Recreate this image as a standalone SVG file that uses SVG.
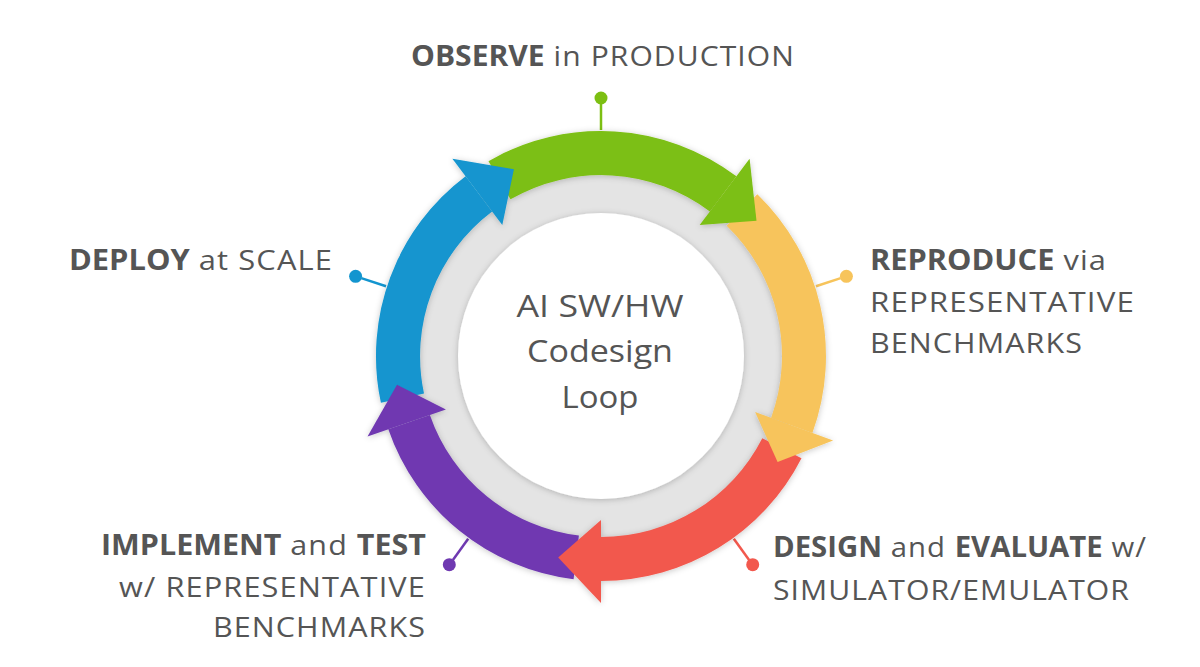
<svg xmlns="http://www.w3.org/2000/svg" width="1200" height="667" viewBox="0 0 1200 667">
  <defs>
    <filter id="sh" x="-20%" y="-20%" width="140%" height="140%">
      <feDropShadow dx="0" dy="1" stdDeviation="3" flood-color="#000" flood-opacity="0.22"/>
    </filter>
    <style>
      .lbl { font-family: "Open Sans", "Liberation Sans", sans-serif; font-size: 28px; fill: #555555; letter-spacing: 1px; }
      .b { font-weight: 700; letter-spacing: 0px; }
      .ctr { font-family: "Open Sans", "Liberation Sans", sans-serif; font-size: 31px; fill: #555555; text-anchor: middle; }
      .green { fill: #7cbf12; }
      .yellow { fill: #f7c45b; }
      .red { fill: #f2584d; }
      .purple { fill: #6f39b1; }
      .blue { fill: #1395cf; }
      .lg { stroke: #7cbf12; } .ly { stroke: #f7c45b; } .lr { stroke: #f2584d; } .lp { stroke: #6f39b1; } .lb { stroke: #1395cf; }
      .pin line { stroke-width: 2.5; }
    </style>
  </defs>
  <rect width="1200" height="667" fill="#ffffff"/>

  <g id="hub">
    <circle cx="601" cy="356" r="200" fill="#e4e4e4"/>
    <circle cx="601" cy="356" r="143" fill="#ffffff" filter="url(#sh)"/>
    <text class="ctr" x="600" y="317" textLength="167" lengthAdjust="spacingAndGlyphs">AI SW/HW</text>
    <text class="ctr" x="600" y="362" textLength="146" lengthAdjust="spacingAndGlyphs">Codesign</text>
    <text class="ctr" x="600" y="408" textLength="77" lengthAdjust="spacingAndGlyphs">Loop</text>
  </g>

  <g id="connectors" class="pin">
    <line class="lg" x1="601" y1="130" x2="601" y2="104"/>
    <circle class="green" cx="601" cy="98" r="6.5"/>
    <line class="ly" x1="816.0" y1="286.2" x2="840.7" y2="278.1"/>
    <circle class="yellow" cx="846.4" cy="276.3" r="6.5"/>
    <line class="lr" x1="733.8" y1="538.8" x2="749.1" y2="559.9"/>
    <circle class="red" cx="752.7" cy="564.7" r="6.5"/>
    <line class="lp" x1="468.2" y1="538.8" x2="452.9" y2="559.9"/>
    <circle class="purple" cx="449.3" cy="564.7" r="6.5"/>
    <line class="lb" x1="386.0" y1="286.2" x2="361.3" y2="278.1"/>
    <circle class="blue" cx="355.6" cy="276.3" r="6.5"/>
  </g>

  <g id="ring" filter="url(#sh)">
    <path class="green" d="M488.5 161.15 A225 225 0 0 1 736.4 176.3 L709.9 211.5 A181 181 0 0 0 510.5 199.3 Z"/>
    <path class="yellow" d="M757.3 194.2 A225 225 0 0 1 812.4 433.0 L771.1 417.9 A181 181 0 0 0 726.7 225.8 Z"/>
    <path class="red" d="M801.5 458.2 A225 225 0 0 1 601 581 L601 537 A181 181 0 0 0 762.3 438.2 Z"/>
    <path class="purple" d="M573.6 579.3 A225 225 0 0 1 388.3 429.3 L429.9 414.9 A181 181 0 0 0 578.9 535.6 Z"/>
    <path class="blue" d="M380.9 402.8 A225 225 0 0 1 465.6 176.3 L492.1 211.5 A181 181 0 0 0 424.0 393.6 Z"/>
    <polygon class="green" points="749.6,158.7 756.5,220.8 699.7,225.0"/>
    <polygon class="yellow" points="833.1,440.5 777.6,462.1 755.1,412.1"/>
    <polygon class="red" points="601,603 558.2,557.5 601,520"/>
    <polygon class="purple" points="367.5,436.4 397.0,384.7 445.9,409.4"/>
    <polygon class="blue" points="452.4,158.7 513.9,169.3 502.3,225.0"/>
  </g>

  <g id="observe">
    <text class="lbl" x="411" y="66" textLength="384" lengthAdjust="spacingAndGlyphs"><tspan class="b">OBSERVE</tspan> in PRODUCTION</text>
  </g>
  <g id="reproduce">
    <text class="lbl" x="870" y="270" textLength="237" lengthAdjust="spacingAndGlyphs"><tspan class="b">REPRODUCE</tspan> via</text>
    <text class="lbl" x="870" y="312" textLength="265" lengthAdjust="spacingAndGlyphs">REPRESENTATIVE</text>
    <text class="lbl" x="870" y="353" textLength="213" lengthAdjust="spacingAndGlyphs">BENCHMARKS</text>
  </g>
  <g id="design">
    <text class="lbl" x="773" y="557" textLength="374" lengthAdjust="spacingAndGlyphs"><tspan class="b">DESIGN</tspan> and <tspan class="b">EVALUATE</tspan> w/</text>
    <text class="lbl" x="773" y="600" textLength="357" lengthAdjust="spacingAndGlyphs">SIMULATOR/EMULATOR</text>
  </g>
  <g id="implement">
    <text class="lbl" x="426" y="555" text-anchor="end" textLength="325" lengthAdjust="spacingAndGlyphs"><tspan class="b">IMPLEMENT</tspan> and <tspan class="b">TEST</tspan></text>
    <text class="lbl" x="426" y="597" text-anchor="end" textLength="307" lengthAdjust="spacingAndGlyphs">w/ REPRESENTATIVE</text>
    <text class="lbl" x="426" y="637" text-anchor="end" textLength="213" lengthAdjust="spacingAndGlyphs">BENCHMARKS</text>
  </g>
  <g id="deploy">
    <text class="lbl" x="69" y="270" textLength="264" lengthAdjust="spacingAndGlyphs"><tspan class="b">DEPLOY</tspan> at SCALE</text>
  </g>
</svg>
